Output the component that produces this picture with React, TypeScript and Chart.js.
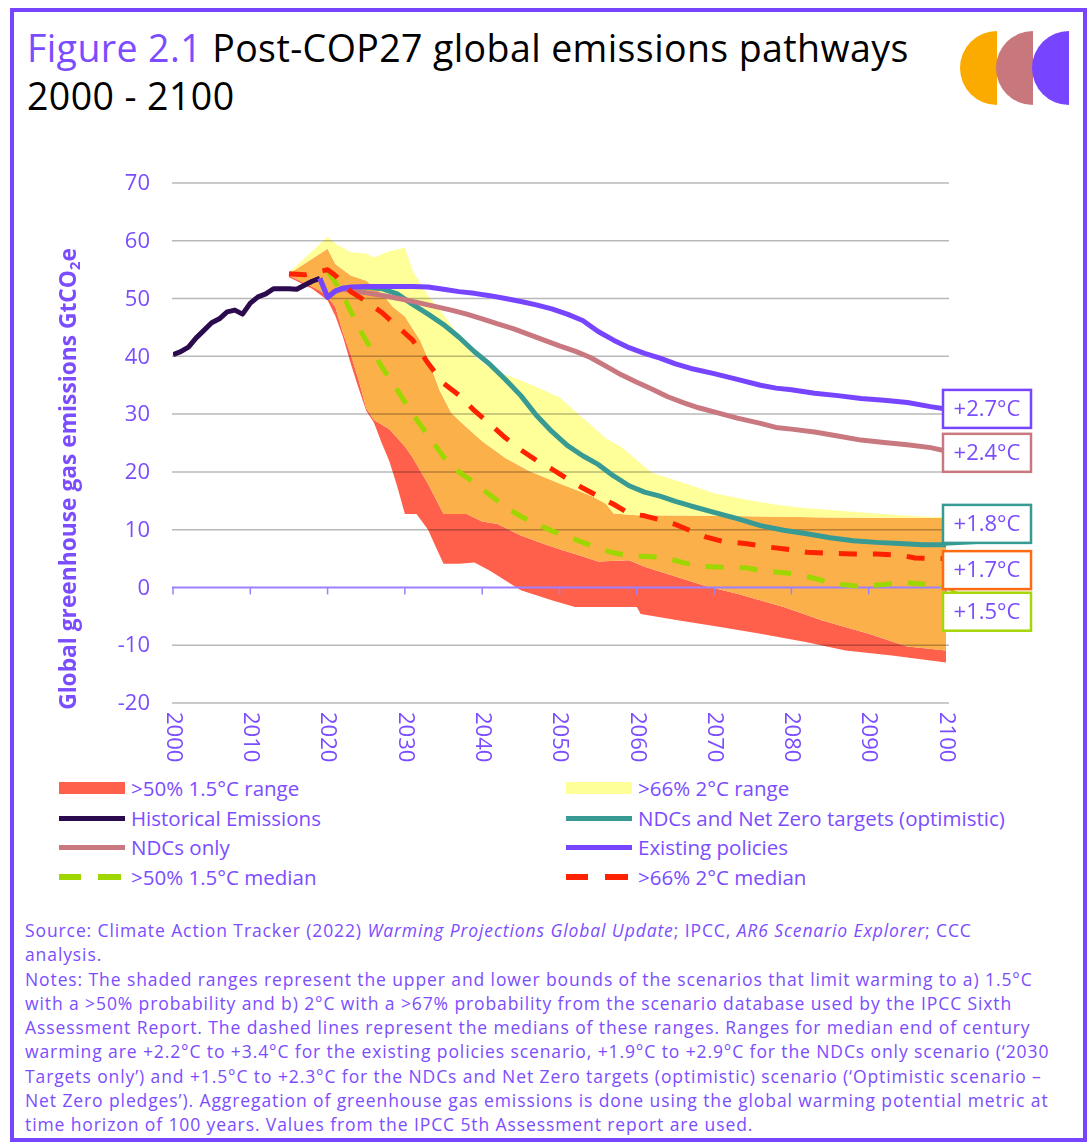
import React, { useEffect, useRef } from "react";
import { Chart, registerables } from "chart.js";

Chart.register(...registerables);

const FONT = "'Open Sans', 'DejaVu Sans', sans-serif";
const TEXT_PURPLE = "#7b4dff";

// ---------------- Data (GtCO2e) ----------------
const historicalYears = [2000, 2001, 2002, 2003, 2004, 2005, 2006, 2007, 2008, 2009, 2010, 2011, 2012, 2013, 2014, 2015, 2016, 2017, 2018, 2019];
const historicalValues = [40.3, 40.8, 41.6, 43.2, 44.5, 45.8, 46.5, 47.7, 48.0, 47.3, 49.2, 50.3, 50.8, 51.7, 51.7, 51.7, 51.6, 52.3, 53.0, 53.5];

const existingYears = [2019, 2020, 2021, 2022, 2023, 2025, 2028, 2031, 2033, 2035, 2037, 2039, 2041, 2043, 2045, 2047, 2049, 2051, 2053, 2055, 2057, 2059, 2061, 2063, 2065, 2067, 2070, 2073, 2076, 2078, 2080, 2083, 2086, 2089, 2092, 2095, 2098, 2100];
const existingValues = [53.5, 50.2, 51.3, 51.8, 52.0, 52.1, 52.1, 52.1, 52.0, 51.6, 51.2, 50.9, 50.5, 50.0, 49.5, 48.9, 48.2, 47.3, 46.2, 44.3, 42.8, 41.5, 40.5, 39.7, 38.7, 37.9, 37.0, 36.0, 35.0, 34.5, 34.2, 33.6, 33.2, 32.7, 32.4, 32.0, 31.3, 30.9];

const ndcYears = [2019, 2020, 2021, 2022, 2024, 2026, 2028, 2030, 2032, 2034, 2036, 2038, 2040, 2042, 2044, 2046, 2048, 2050, 2052, 2054, 2056, 2058, 2060, 2062, 2064, 2066, 2068, 2070, 2073, 2076, 2078, 2080, 2083, 2086, 2089, 2092, 2095, 2098, 2100];
const ndcValues = [53.5, 50.2, 51.3, 51.6, 51.2, 50.8, 50.3, 49.8, 49.2, 48.6, 48.0, 47.3, 46.5, 45.6, 44.8, 43.8, 42.8, 41.8, 40.9, 39.8, 38.3, 36.8, 35.5, 34.3, 33.0, 32.0, 31.1, 30.4, 29.3, 28.4, 27.7, 27.4, 26.9, 26.2, 25.5, 25.1, 24.7, 24.2, 23.6];

const netZeroYears = [2019, 2020, 2021, 2022, 2025, 2027, 2029, 2031, 2033, 2035, 2037, 2039, 2041, 2043, 2045, 2047, 2049, 2051, 2053, 2055, 2057, 2059, 2061, 2063, 2065, 2067, 2070, 2073, 2076, 2079, 2082, 2085, 2088, 2091, 2094, 2097, 2100];
const netZeroValues = [53.5, 50.2, 51.3, 51.8, 52.0, 51.7, 50.8, 49.0, 47.3, 45.5, 43.3, 40.8, 38.6, 36.0, 33.2, 29.8, 27.0, 24.6, 22.8, 21.3, 19.3, 17.6, 16.5, 15.8, 14.9, 14.1, 13.0, 11.9, 10.7, 9.9, 9.3, 8.6, 8.1, 7.8, 7.6, 7.4, 7.4];

const twoMedianYears = [2015, 2017, 2018, 2020, 2021, 2023, 2025, 2027, 2029, 2031, 2033, 2035, 2037, 2039, 2041, 2043, 2045, 2047, 2049, 2051, 2053, 2055, 2057, 2059, 2061, 2063, 2065, 2067, 2069, 2071, 2074, 2077, 2080, 2082, 2085, 2088, 2091, 2094, 2096, 2100];
const twoMedianValues = [54.3, 54.1, 54.4, 55.0, 54.0, 51.2, 49.5, 47.6, 45.2, 42.8, 38.8, 35.3, 33.3, 30.6, 28.3, 25.9, 23.8, 22.0, 20.5, 18.8, 17.2, 15.8, 14.4, 12.8, 12.4, 11.7, 10.9, 9.8, 8.7, 8.0, 7.6, 7.0, 6.5, 6.1, 5.9, 5.8, 5.8, 5.6, 5.1, 5.0];

const oneFiveMedianYears = [2020, 2021, 2022, 2023, 2024, 2025, 2027, 2029, 2031, 2033, 2035, 2037, 2039, 2041, 2043, 2045, 2047, 2049, 2051, 2053, 2055, 2057, 2059, 2062, 2064, 2066, 2068, 2071, 2074, 2077, 2080, 2082, 2084, 2086, 2088, 2090, 2092, 2094, 2096, 2100];
const oneFiveMedianValues = [54.7, 52.8, 50.5, 47.8, 45.0, 42.7, 38.2, 34.2, 30.0, 26.3, 22.6, 20.0, 18.1, 16.0, 14.0, 12.3, 11.0, 9.8, 8.8, 7.8, 6.8, 6.0, 5.5, 5.3, 5.0, 4.3, 3.7, 3.5, 3.4, 2.8, 2.4, 1.9, 1.2, 0.6, 0.3, 0.3, 0.5, 0.9, 0.7, 0.3];

// >66% 2°C range bounds
const twoUpperYears = [2015, 2020, 2021, 2023, 2025, 2026, 2028, 2030, 2031, 2033, 2035, 2037, 2039, 2041, 2043, 2045, 2047, 2050, 2052, 2054, 2056, 2058, 2060, 2062, 2066, 2070, 2074, 2078, 2082, 2086, 2090, 2094, 2098, 2100];
const twoUpperValues = [54.5, 60.7, 59.5, 58.0, 57.8, 57.1, 58.2, 58.8, 54.8, 50.5, 47.2, 43.5, 40.0, 38.0, 36.8, 35.8, 34.7, 32.9, 30.5, 28.2, 25.8, 24.3, 22.0, 19.8, 18.1, 16.3, 15.2, 14.3, 13.7, 13.3, 12.9, 12.5, 12.2, 12.2];
const twoLowerYears = [2015, 2019, 2020, 2021, 2022, 2023, 2024, 2025, 2026, 2028, 2030, 2031, 2032, 2033, 2035, 2038, 2040, 2042, 2045, 2048, 2050, 2052, 2055, 2059, 2061, 2065, 2069, 2073, 2079, 2084, 2090, 2095, 2100];
const twoLowerValues = [54.0, 51.4, 50.3, 48.6, 44.0, 40.3, 36.0, 31.0, 29.0, 27.4, 24.4, 22.5, 20.2, 17.9, 12.7, 12.7, 11.4, 11.0, 9.0, 7.5, 6.6, 5.8, 4.5, 4.7, 3.6, 1.9, 0.2, -1.1, -3.4, -5.7, -8.0, -10.2, -10.9];

// >50% 1.5°C range bounds
const oneFiveUpperYears = [2015, 2020, 2021, 2023, 2025, 2027, 2028.5, 2030, 2032, 2033, 2034.5, 2036, 2038, 2040, 2043, 2046, 2050, 2054, 2056, 2057, 2060, 2070, 2085, 2100];
const oneFiveUpperValues = [54.3, 58.6, 56.0, 54.0, 53.1, 50.9, 48.5, 46.9, 42.7, 39.5, 34.1, 30.2, 27.7, 25.3, 22.4, 20.2, 18.0, 15.9, 14.5, 12.8, 12.5, 12.4, 12.1, 12.0];
const oneFiveLowerYears = [2015, 2018, 2020, 2021, 2022, 2023, 2024, 2025, 2026, 2027, 2028, 2029, 2030, 2031.5, 2033, 2034, 2035, 2037, 2039, 2041, 2043, 2045, 2049, 2052, 2060, 2060.5, 2065.5, 2071, 2076, 2082, 2087, 2093, 2096, 2100];
const oneFiveLowerValues = [53.7, 51.7, 49.7, 47.0, 43.3, 38.7, 34.5, 30.6, 28.5, 25.0, 21.8, 17.5, 12.7, 12.7, 10.0, 7.0, 4.1, 4.1, 4.3, 2.9, 1.2, -0.5, -2.2, -3.4, -3.4, -4.6, -5.7, -6.9, -8.0, -9.5, -10.9, -11.8, -12.3, -13.0];

const xTickYears = [2000, 2010, 2020, 2030, 2040, 2050, 2060, 2070, 2080, 2090, 2100];
const yTickValues = [-20, -10, 0, 10, 20, 30, 40, 50, 60, 70];

const endLabels = ["+2.7°C", "+2.4°C", "+1.8°C", "+1.7°C", "+1.5°C"];
const endLabelColors = ["#7744ff", "#c97880", "#379a93", "#ff6a13", "#a6d608"];

const legendLabels = [
  ">50% 1.5°C range", ">66% 2°C range",
  "Historical Emissions", "NDCs and Net Zero targets (optimistic)",
  "NDCs only", "Existing policies",
  ">50% 1.5°C median", ">66% 2°C median",
];

// ---------------- Colours ----------------
const C = {
  yellow: "#ffff99",
  orange: "#fbb04a",
  red: "#ff604b",
  hist: "#2b0a4d",
  teal: "#379a93",
  pink: "#c97880",
  purple: "#7744ff",
  green: "#9ed600",
  redMedian: "#ff2200",
};

const pts = (xs: number[], ys: number[]) => xs.map((x, i) => ({ x, y: ys[i] }));

const bandDs = (label: string, xs: number[], ys: number[], color: string | null) => ({
  label,
  data: pts(xs, ys),
  borderColor: "rgba(0,0,0,0)",
  borderWidth: 0,
  backgroundColor: color || "rgba(0,0,0,0)",
  pointRadius: 0,
  fill: color ? "+1" : false,
  tension: 0,
  order: 10,
});

const lineDs = (label: string, xs: number[], ys: number[], color: string, order: number, dash?: number[]) => ({
  label,
  data: pts(xs, ys),
  borderColor: color,
  borderWidth: 5,
  borderDash: dash || [],
  borderCapStyle: "butt",
  borderJoinStyle: "round",
  pointRadius: 0,
  fill: false,
  tension: 0,
  order,
});

const overlayPlugin = {
  id: "overlay",
  afterDatasetDraw(chart: any, args: any) {
    if (args.index !== 0) return;
    const { ctx, chartArea, scales } = chart;
    const ys = scales.y;
    const xs = scales.x;
    ctx.save();
    ctx.strokeStyle = "rgba(0,0,0,0.28)";
    ctx.lineWidth = 1.5;
    for (const v of yTickValues) {
      if (v === 0) continue;
      const py = ys.getPixelForValue(v);
      ctx.beginPath();
      ctx.moveTo(chartArea.left - 1, py);
      ctx.lineTo(chartArea.right + 3, py);
      ctx.stroke();
    }
    const y0 = ys.getPixelForValue(0);
    ctx.strokeStyle = "#9d80ff";
    ctx.lineWidth = 2;
    ctx.beginPath();
    ctx.moveTo(chartArea.left - 1, y0);
    ctx.lineTo(chartArea.right, y0);
    ctx.stroke();
    ctx.lineWidth = 1.5;
    for (const yr of xTickYears) {
      const px = xs.getPixelForValue(yr);
      ctx.beginPath();
      ctx.moveTo(px, y0);
      ctx.lineTo(px, y0 + 7);
      ctx.stroke();
    }
    ctx.restore();
  },
  afterDraw(chart: any) {
    const { ctx, chartArea, scales } = chart;
    const xs = scales.x;
    const ys = scales.y;
    ctx.save();
    ctx.fillStyle = TEXT_PURPLE;
    ctx.font = `22px ${FONT}`;
    // y tick labels
    ctx.textAlign = "right";
    ctx.textBaseline = "middle";
    for (const v of yTickValues) {
      ctx.fillText(String(v), chartArea.left - 23, ys.getPixelForValue(v) + 1);
    }
    // x tick labels, rotated clockwise
    ctx.textAlign = "left";
    ctx.textBaseline = "middle";
    for (const yr of xTickYears) {
      const px = xs.getPixelForValue(yr);
      ctx.save();
      ctx.translate(px, chartArea.bottom + 9);
      ctx.rotate(Math.PI / 2);
      ctx.fillText(String(yr), 0, 0);
      ctx.restore();
    }
    // y axis title with subscript
    const main = "Global greenhouse gas emissions GtCO";
    const sub = "2";
    const tail = "e";
    ctx.font = `bold 20px ${FONT}`;
    const w0 = ctx.measureText(main + tail).width + ctx.measureText(sub).width * 0.65;
    const fs = (20 * 462) / w0;
    const mainFont = `bold ${fs}px ${FONT}`;
    const subFont = `bold ${fs * 0.65}px ${FONT}`;
    ctx.font = mainFont;
    const w1 = ctx.measureText(main).width;
    const w3 = ctx.measureText(tail).width;
    ctx.font = subFont;
    const w2 = ctx.measureText(sub).width;
    const total = w1 + w2 + w3;
    ctx.save();
    ctx.translate(48, chartArea.top + 296);
    ctx.rotate(-Math.PI / 2);
    ctx.textAlign = "left";
    ctx.textBaseline = "alphabetic";
    ctx.fillStyle = TEXT_PURPLE;
    let sx = -total / 2;
    const base = fs * 0.36;
    ctx.font = mainFont;
    ctx.fillText(main, sx, base);
    sx += w1;
    ctx.font = subFont;
    ctx.fillText(sub, sx, base + fs * 0.18);
    sx += w2;
    ctx.font = mainFont;
    ctx.fillText(tail, sx, base);
    ctx.restore();

    // end-of-century warming labels
    const centers = [30.9, 23.3, 11.0, 3.0, -4.2];
    const boxW = 88;
    const boxH = 38;
    const left = chartArea.right - 3;
    ctx.lineWidth = 2;
    ctx.strokeStyle = C.teal;
    ctx.beginPath();
    ctx.moveTo(chartArea.right - 2, ys.getPixelForValue(netZeroValues[netZeroValues.length - 1]));
    ctx.lineTo(left + 34, ys.getPixelForValue(centers[2]) + boxH / 2);
    ctx.stroke();
    ctx.strokeStyle = C.green;
    ctx.beginPath();
    ctx.moveTo(chartArea.right - 6, ys.getPixelForValue(oneFiveMedianValues[oneFiveMedianValues.length - 1]));
    ctx.lineTo(left + 14, ys.getPixelForValue(centers[4]) - boxH / 2);
    ctx.stroke();
    endLabels.forEach((t, i) => {
      const cy = ys.getPixelForValue(centers[i]);
      ctx.fillStyle = "#ffffff";
      ctx.fillRect(left, cy - boxH / 2, boxW, boxH);
      ctx.strokeStyle = endLabelColors[i];
      ctx.lineWidth = 2.5;
      ctx.strokeRect(left, cy - boxH / 2, boxW, boxH);
      ctx.fillStyle = TEXT_PURPLE;
      ctx.font = `22px ${FONT}`;
      ctx.textAlign = "center";
      ctx.textBaseline = "middle";
      ctx.fillText(t, left + boxW / 2, cy + 1);
    });
    ctx.restore();
  },
};

function ChartCanvas() {
  const ref = useRef<HTMLCanvasElement>(null);
  useEffect(() => {
    if (!ref.current) return;
    const chart = new Chart(ref.current, {
      type: "line",
      data: {
        datasets: [
          bandDs("2C upper", twoUpperYears, twoUpperValues, C.yellow),
          bandDs("1.5C upper", oneFiveUpperYears, oneFiveUpperValues, C.orange),
          bandDs("2C lower", twoLowerYears, twoLowerValues, C.red),
          bandDs("1.5C lower", oneFiveLowerYears, oneFiveLowerValues, null),
          lineDs(legendLabels[7], twoMedianYears, twoMedianValues, C.redMedian, 0, [18, 16]),
          lineDs(legendLabels[6], oneFiveMedianYears, oneFiveMedianValues, C.green, 0, [18, 16]),
          lineDs(legendLabels[5], existingYears, existingValues, C.purple, 1),
          lineDs(legendLabels[4], ndcYears, ndcValues, C.pink, 2),
          lineDs(legendLabels[3], netZeroYears, netZeroValues, C.teal, 3),
          lineDs(legendLabels[2], historicalYears, historicalValues, C.hist, 4),
        ] as any,
      },
      options: {
        responsive: false,
        animation: false,
        devicePixelRatio: 1,
        layout: { padding: { left: 0, right: 114, top: 15, bottom: 65 } },
        plugins: {
          legend: { display: false },
          tooltip: { enabled: false },
          title: { display: false },
        },
        scales: {
          x: { type: "linear", min: 2000, max: 2100, display: false },
          y: {
            min: -20,
            max: 70,
            ticks: { display: false, stepSize: 10 },
            grid: { display: false, drawTicks: false },
            border: { display: false },
            afterFit: (s: any) => {
              s.width = 153;
            },
          },
        },
      } as any,
      plugins: [overlayPlugin],
    });
    return () => chart.destroy();
  }, []);
  return (
    <canvas
      ref={ref}
      width={1040}
      height={600}
      style={{ position: "absolute", left: 20, top: 168, width: 1040, height: 600 }}
    />
  );
}

type Swatch = "range" | "line" | "dash";
const legendSwatches: { kind: Swatch; color: string }[] = [
  { kind: "range", color: C.red },
  { kind: "range", color: C.yellow },
  { kind: "line", color: C.hist },
  { kind: "line", color: C.teal },
  { kind: "line", color: C.pink },
  { kind: "line", color: C.purple },
  { kind: "dash", color: C.green },
  { kind: "dash", color: C.redMedian },
];

function LegendSwatch({ kind, color }: { kind: Swatch; color: string }) {
  if (kind === "range")
    return <div style={{ position: "absolute", left: 0, top: 9, width: 66, height: 12, background: color }} />;
  if (kind === "line")
    return <div style={{ position: "absolute", left: 0, top: 13, width: 66, height: 5, background: color }} />;
  return (
    <>
      <div style={{ position: "absolute", left: 0, top: 12, width: 22, height: 6, background: color }} />
      <div style={{ position: "absolute", left: 39, top: 12, width: 23, height: 6, background: color }} />
    </>
  );
}

const notesLines: React.ReactNode[] = [
  <>Source: Climate Action Tracker (2022) <i>Warming Projections Global Update</i>; IPCC, <i>AR6 Scenario Explorer</i>; CCC</>,
  <>analysis.</>,
  <>Notes: The shaded ranges represent the upper and lower bounds of the scenarios that limit warming to a) 1.5°C</>,
  <>with a &gt;50% probability and b) 2°C with a &gt;67% probability from the scenario database used by the IPCC Sixth</>,
  <>Assessment Report. The dashed lines represent the medians of these ranges. Ranges for median end of century</>,
  <>warming are +2.2°C to +3.4°C for the existing policies scenario, +1.9°C to +2.9°C for the NDCs only scenario (‘2030</>,
  <>Targets only’) and +1.5°C to +2.3°C for the NDCs and Net Zero targets (optimistic) scenario (‘Optimistic scenario –</>,
  <>Net Zero pledges’). Aggregation of greenhouse gas emissions is done using the global warming potential metric at</>,
  <>time horizon of 100 years. Values from the IPCC 5th Assessment report are used.</>,
];

export default function App() {
  return (
    <div style={{ fontFamily: FONT }}>
      <div
        style={{
          position: "absolute",
          left: 10,
          top: 8,
          width: 1077,
          height: 1134,
          border: "4px solid #7744ff",
          boxSizing: "border-box",
          background: "#ffffff",
        }}
      />
      <div
        style={{
          position: "absolute",
          left: 27,
          top: 24,
          fontSize: 37.5,
          letterSpacing: 0.4,
          lineHeight: "48px",
          color: "#000",
          whiteSpace: "nowrap",
        }}
      >
        <span style={{ color: TEXT_PURPLE }}>Figure 2.1</span> Post-COP27 global emissions pathways
        <br />
        2000 - 2100
      </div>
      <svg width={125} height={90} style={{ position: "absolute", left: 950, top: 25 }}>
        <path d="M47 6 A37 37 0 0 0 47 80 Z" fill="#fbaa00" />
        <path d="M83 6 A37 37 0 0 0 83 80 Z" fill="#c8777c" />
        <path d="M119 6 A37 37 0 0 0 119 80 Z" fill="#7744ff" />
      </svg>
      <ChartCanvas />
      {legendLabels.map((lab, i) => {
        const col = i % 2;
        const row = Math.floor(i / 2);
        const left = col === 0 ? 59 : 566;
        const top = 773 + row * 29.7;
        return (
          <div key={i} style={{ position: "absolute", left, top, height: 30, width: 480 }}>
            <LegendSwatch kind={legendSwatches[i].kind} color={legendSwatches[i].color} />
            <div
              style={{
                position: "absolute",
                left: 72,
                top: 0,
                fontSize: 20.5,
                lineHeight: "30px",
                color: TEXT_PURPLE,
                whiteSpace: "nowrap",
              }}
            >
              {lab}
            </div>
          </div>
        );
      })}
      <div
        style={{
          position: "absolute",
          left: 25,
          top: 918,
          fontSize: 17.5,
          letterSpacing: 0.9,
          lineHeight: "24.3px",
          color: TEXT_PURPLE,
          whiteSpace: "nowrap",
        }}
      >
        {notesLines.map((l, i) => (
          <div key={i}>{l}</div>
        ))}
      </div>
    </div>
  );
}
